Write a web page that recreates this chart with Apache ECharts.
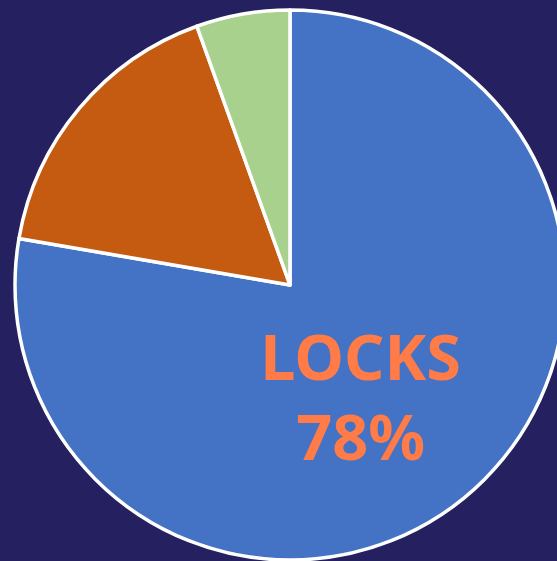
<!DOCTYPE html>
<html>
<head>
<meta charset="utf-8">
<script src="https://cdn.jsdelivr.net/npm/echarts@6/dist/echarts.min.js"></script>
<style>
html,body{margin:0;padding:0;background:#252060;}
#chart{width:557px;height:561px;}
</style>
</head>
<body>
<div id="chart"></div>
<script>
const categories = ['LOCKS', 'OTHER', 'MISC'];
const values = [77.7, 16.8, 5.5];
const colors = ['#4472C4', '#C55A11', '#A9D18E'];

const chart = echarts.init(document.getElementById('chart'), null, {renderer: 'canvas'});
const data = categories.map((c, i) => ({
  name: c,
  value: values[i],
  itemStyle: {color: colors[i]},
  label: {show: i === 0}
}));
chart.setOption({
  backgroundColor: '#252060',
  animation: false,
  series: [{
    type: 'pie',
    center: [290, 285],
    radius: [0, 275],
    startAngle: 90,
    clockwise: true,
    itemStyle: {borderColor: '#ffffff', borderWidth: 3.5},
    labelLine: {show: false},
    label: {
      position: 'inside',
      offset: [-20, 10],
      formatter: p => p.name + '\n' + Math.round(p.percent) + '%',
      color: '#FF7B47',
      fontFamily: 'Noto Sans',
      fontWeight: 'bold',
      fontSize: 63,
      lineHeight: 80
    },
    emphasis: {disabled: true},
    data: data
  }]
});
</script>
</body>
</html>
